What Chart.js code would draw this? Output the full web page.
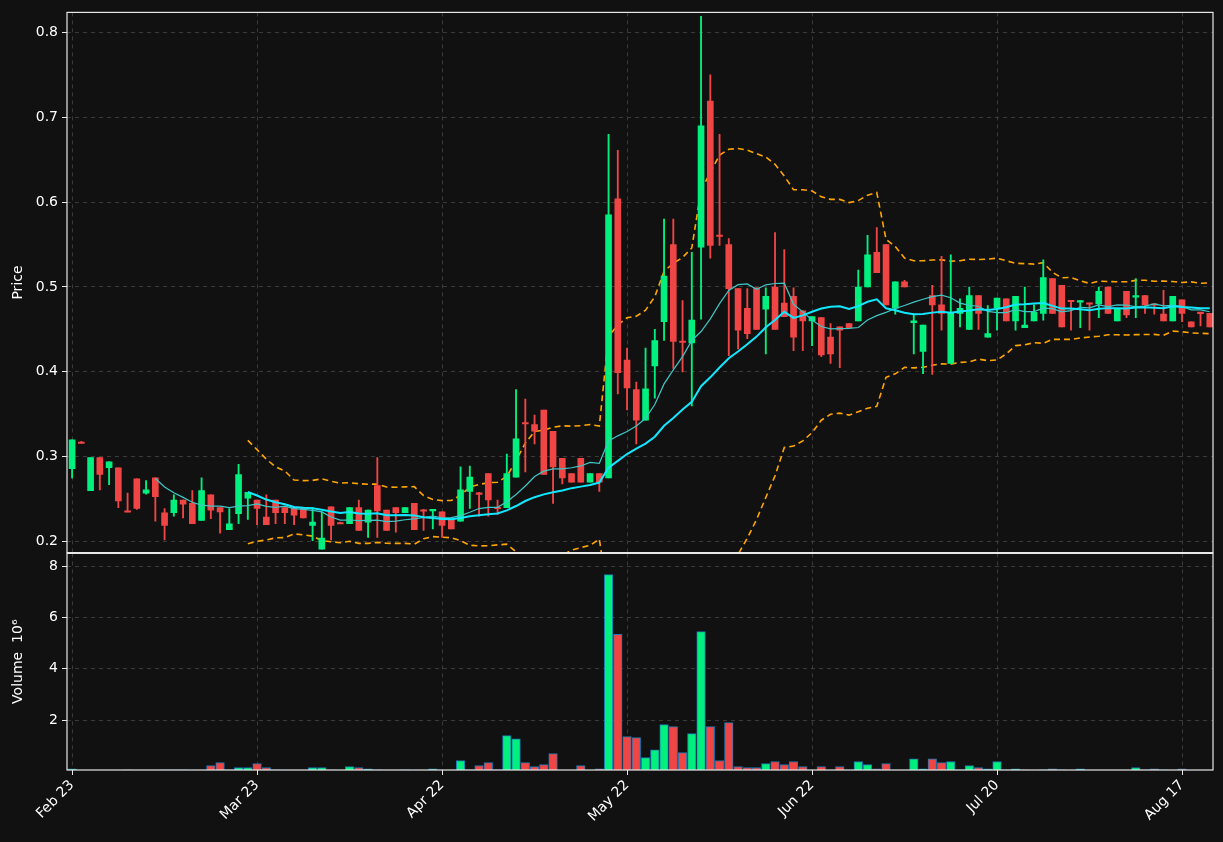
<!DOCTYPE html>
<html><head><meta charset="utf-8">
<script src="https://cdn.jsdelivr.net/npm/chart.js@4.4.1/dist/chart.umd.min.js"></script>
<style>
html,body{margin:0;padding:0;background:#111111;width:1223px;height:842px;overflow:hidden}
canvas{position:absolute;left:0}
</style></head><body>
<canvas id="p" width="1223" height="565" style="top:0"></canvas>
<canvas id="v" width="1223" height="301" style="top:541px"></canvas>
<script>
const tickIdx = [0,20,40,60,80,100,120];
const tickLabels = ["Feb 23","Mar 23","Apr 22","May 22","Jun 22","Jul 20","Aug 17"];
const opens = [.286,.317,.260,.299,.287,.287,.236,.274,.257,.275,.234,.234,.249,.245,.225,.255,.240,.214,.233,.251,
.249,.229,.249,.240,.240,.240,.219,.191,.241,.222,.221,.240,.223,.266,.237,.240,.234,.245,.237,.236,
.235,.226,.224,.259,.257,.280,.240,.240,.276,.340,.338,.355,.330,.298,.280,.298,.270,.280,.275,.604,
.414,.379,.343,.407,.459,.550,.436,.434,.547,.719,.561,.550,.498,.475,.499,.474,.500,.481,.489,.472,
.460,.464,.441,.453,.457,.460,.500,.541,.550,.475,.506,.458,.424,.490,.479,.410,.469,.450,.490,.441,
.475,.486,.460,.452,.460,.469,.510,.502,.484,.482,.481,.480,.500,.460,.495,.488,.490,.480,.468,.460,
.485,.459,.470,.469];
const highs = [.320,.318,.299,.299,.294,.287,.257,.274,.272,.275,.239,.255,.249,.260,.275,.255,.240,.239,.291,.258,
.249,.255,.249,.240,.240,.240,.240,.235,.241,.223,.240,.249,.237,.299,.237,.240,.240,.245,.238,.238,
.235,.226,.288,.289,.258,.280,.249,.303,.379,.368,.349,.355,.330,.298,.280,.298,.280,.280,.680,.661,
.428,.388,.428,.450,.580,.580,.484,.541,.819,.750,.680,.557,.498,.498,.499,.499,.564,.544,.499,.472,
.465,.464,.457,.453,.457,.520,.561,.570,.550,.506,.508,.468,.455,.502,.536,.538,.486,.500,.490,.478,
.487,.486,.489,.500,.479,.532,.510,.502,.484,.484,.481,.500,.500,.475,.495,.510,.490,.480,.496,.489,
.485,.459,.470,.469];
const lows = [.275,.316,.260,.261,.267,.240,.235,.238,.256,.224,.202,.230,.228,.221,.225,.227,.210,.214,.221,.226,
.220,.220,.221,.221,.220,.228,.201,.191,.202,.221,.221,.213,.205,.205,.213,.211,.234,.214,.213,.215,
.205,.215,.224,.239,.230,.230,.232,.240,.276,.282,.315,.279,.245,.268,.270,.270,.270,.259,.275,.374,
.355,.315,.343,.369,.437,.404,.400,.360,.462,.534,.549,.419,.427,.439,.450,.421,.450,.465,.425,.425,
.431,.418,.410,.405,.453,.460,.500,.517,.479,.468,.500,.421,.398,.397,.449,.410,.453,.450,.450,.441,
.449,.460,.449,.452,.460,.461,.469,.453,.449,.452,.449,.464,.469,.460,.464,.464,.469,.468,.460,.460,
.459,.453,.454,.453];
const closes = [.320,.316,.299,.279,.294,.248,.235,.239,.261,.253,.219,.249,.244,.221,.260,.237,.235,.221,.279,.258,
.239,.220,.234,.234,.231,.228,.223,.204,.219,.221,.240,.213,.237,.236,.213,.234,.240,.214,.236,.238,
.219,.215,.261,.276,.256,.249,.239,.280,.321,.339,.330,.279,.288,.275,.270,.270,.280,.270,.585,.399,
.381,.343,.380,.437,.513,.436,.435,.461,.690,.549,.560,.498,.449,.445,.450,.489,.450,.465,.441,.460,
.465,.420,.421,.449,.452,.500,.538,.517,.479,.506,.500,.460,.455,.479,.469,.470,.475,.490,.469,.445,
.487,.460,.489,.455,.470,.511,.469,.453,.483,.484,.480,.495,.469,.475,.467,.490,.479,.479,.460,.489,
.469,.453,.469,.453];
const volumes = [0.10,0.02,0.03,0.03,0.01,0.03,0.06,0.03,0.03,0.03,0.06,0.06,0.06,0.03,0.01,0.22,0.34,0.06,0.14,0.14,
0.30,0.14,0.06,0.01,0.03,0.03,0.14,0.14,0.06,0.01,0.18,0.14,0.10,0.06,0.01,0.01,0.06,0.03,0.03,0.10,
0.02,0.02,0.42,0.06,0.22,0.34,0.06,1.39,1.27,0.34,0.18,0.26,0.69,0.01,0.03,0.22,0.01,0.10,7.67,5.34,
1.35,1.31,0.53,0.84,1.82,1.74,0.73,1.47,5.45,1.74,0.42,1.90,0.18,0.14,0.14,0.30,0.38,0.26,0.38,0.18,
0.01,0.18,0.04,0.18,0.01,0.38,0.26,0.10,0.30,0.01,0.02,0.49,0.10,0.49,0.34,0.38,0.06,0.22,0.14,0.10,
0.38,0.06,0.10,0.06,0.03,0.06,0.10,0.06,0.02,0.10,0.01,0.02,0.02,0.01,0.03,0.14,0.06,0.10,0.06,0.01,
0.10,0.01,0.01,0.01];

const UP='#00f080', DOWN='#f04545', BG='#111111', GRID='#3a3a3a', TXT='#ffffff';
const n = closes.length;
const up = closes.map((c,i)=>c>=opens[i]);
const col = up.map(u=>u?UP:DOWN);
function sma(k,i){ if(i<k-1) return null; let s=0; for(let j=i-k+1;j<=i;j++) s+=closes[j]; return s/k; }
function sd(k,i){ const m=sma(k,i); if(m===null) return null; let s=0; for(let j=i-k+1;j<=i;j++) s+=(closes[j]-m)**2; return Math.sqrt(s/(k-1)); }
const idx=[...Array(n).keys()];
const ma10 = idx.map(i=>({x:i,y:sma(10,i)}));
const ma20 = idx.map(i=>({x:i,y:sma(20,i)}));
const bbU = idx.map(i=>({x:i,y:sma(20,i)===null?null:sma(20,i)+2*sd(20,i)}));
const bbL = idx.map(i=>({x:i,y:sma(20,i)===null?null:sma(20,i)-2*sd(20,i)}));
const wicks = idx.map(i=>({x:i,y:[lows[i],highs[i]]}));
const bodies = idx.map(i=>{let a=opens[i],b=closes[i]; if(Math.abs(a-b)<0.0015){const m=(a+b)/2;a=m-0.0008;b=m+0.0008;} return {x:i,y:[a,b]};});
const vols = idx.map(i=>({x:i,y:volumes[i]}));

const font={family:'DejaVu Sans',size:14};
Chart.defaults.font.family='DejaVu Sans';
Chart.defaults.color=TXT;
const frame={id:'frame',afterDraw(c){const a=c.chartArea,x=c.ctx;x.save();x.strokeStyle='#e8e8e8';x.lineWidth=1.2;x.strokeRect(a.left,a.top,a.right-a.left,a.bottom-a.top);x.restore();}};
const xMin=-0.55,xMax=123.35;
function xScale(showLabels){
  return {type:'linear',min:xMin,max:xMax,offset:false,
    afterBuildTicks:s=>{s.ticks=tickIdx.map(v=>({value:v}));},
    ticks:{display:showLabels,autoSkip:false,maxRotation:45,minRotation:45,font,color:TXT,padding:2,
      callback:(v)=>{const k=tickIdx.indexOf(v);return k>=0?tickLabels[k]:'';}},
    grid:{color:GRID,offset:false,drawTicks:showLabels,tickLength:5,tickColor:'#e8e8e8'},
    border:{display:false,dash:[4,4]},
    afterFit:s=>{s.height=showLabels?72:0;}};
}
new Chart(document.getElementById('p'),{
  type:'bar',
  data:{datasets:[
    {type:'line',data:bbU,borderColor:'#ffa500',borderWidth:1.6,borderDash:[6,4],pointRadius:0,spanGaps:false,order:5},
    {type:'line',data:bbL,borderColor:'#ffa500',borderWidth:1.6,borderDash:[6,4],pointRadius:0,spanGaps:false,order:5},
    {data:wicks,backgroundColor:col,barThickness:1.2,grouped:false,order:4},
    {data:bodies,backgroundColor:col,barThickness:6,grouped:false,order:3},
    {type:'line',data:ma10,borderColor:'#3fc6c6',borderWidth:1.2,pointRadius:0,order:2},
    {type:'line',data:ma20,borderColor:'#10e8ff',borderWidth:2,pointRadius:0,order:1}
  ]},
  options:{responsive:false,animation:false,devicePixelRatio:1,
    layout:{padding:{top:12,right:10,bottom:1,left:0}},
    plugins:{legend:{display:false},tooltip:{enabled:false}},
    scales:{x:xScale(false),
      y:{min:0.187,max:0.8236,
        afterBuildTicks:s=>{s.ticks=[0.2,0.3,0.4,0.5,0.6,0.7,0.8].map(v=>({value:v}));},
        ticks:{font,color:TXT,callback:v=>v.toFixed(1),padding:4},
        grid:{color:GRID,tickLength:5,tickColor:'#e8e8e8'},border:{display:false,dash:[4,4]},
        title:{display:true,text:'Price',font,color:TXT,padding:{top:10,bottom:0}},
        afterFit:s=>{s.width=67;}}}},
  plugins:[frame]
});
new Chart(document.getElementById('v'),{
  type:'bar',
  data:{datasets:[{data:vols,backgroundColor:col,borderColor:'#1f77b4',borderWidth:1,barThickness:8.6,grouped:false,borderSkipped:false}]},
  options:{responsive:false,animation:false,devicePixelRatio:1,
    layout:{padding:{top:0,right:10,bottom:0,left:0}},
    plugins:{legend:{display:false},tooltip:{enabled:false}},
    scales:{x:xScale(true),
      y:{min:0.05,max:8.5,
        afterBuildTicks:s=>{s.ticks=[2,4,6,8].map(v=>({value:v}));},
        ticks:{font,color:TXT,padding:4},
        grid:{color:GRID,tickLength:5,tickColor:'#e8e8e8'},border:{display:false,dash:[4,4]},
        title:{display:true,text:'Volume  10\u2076',font,color:TXT,padding:{top:10,bottom:0}},
        afterFit:s=>{s.width=67;}}}},
  plugins:[frame]
});
</script></body></html>
